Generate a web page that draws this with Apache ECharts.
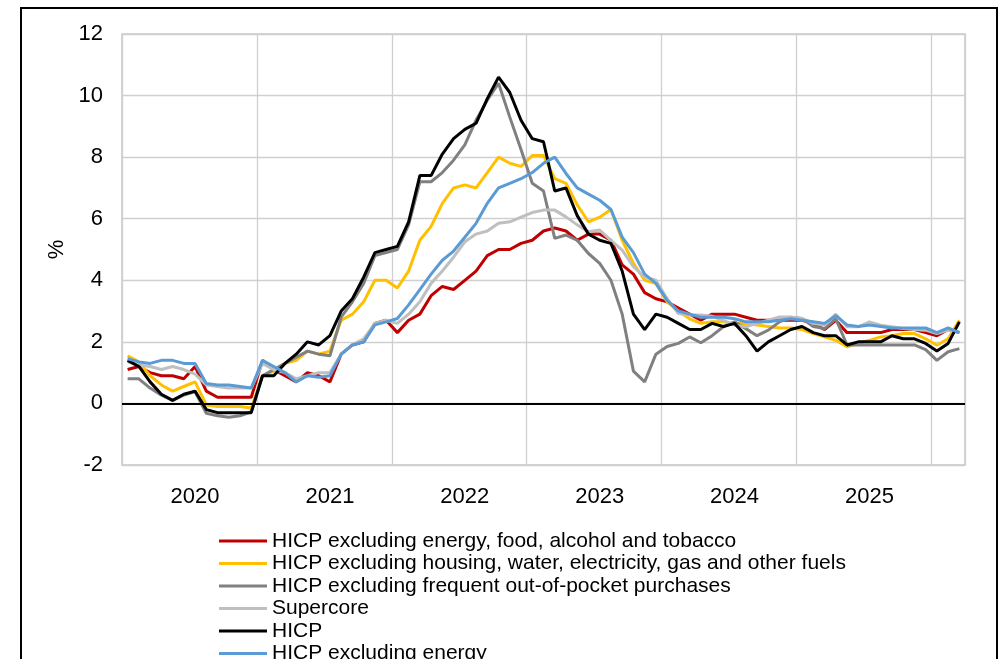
<!DOCTYPE html>
<html>
<head>
<meta charset="utf-8">
<script src="https://cdn.jsdelivr.net/npm/echarts@6/dist/echarts.min.js"></script>
<style>
html,body{margin:0;padding:0;background:#fff;}
#chart{width:1002px;height:659px;}
</style>
</head>
<body>
<div id="chart"></div>
<script>
// Monthly categories Jan 2020 - Mar 2026
const years = ['2020','2021','2022','2023','2024','2025','2026'];
const monthsPerYear = [12,12,12,12,12,12,3];
const categories = [];
years.forEach((y, k) => { for (let m = 1; m <= monthsPerYear[k]; m++) categories.push(y + '-' + String(m).padStart(2,'0')); });

const seriesNames = [
  'HICP excluding energy, food, alcohol and tobacco',
  'HICP excluding housing, water, electricity, gas and other fuels',
  'HICP excluding frequent out-of-pocket purchases',
  'Supercore',
  'HICP',
  'HICP excluding energy'
];

const core = [
  1.1,1.2,1.0,0.9,0.9,0.8,1.2,0.4,0.2,0.2,0.2,0.2,
  1.4,1.1,0.9,0.7,1.0,0.9,0.7,1.6,1.9,2.0,2.6,2.7,
  2.3,2.7,2.9,3.5,3.8,3.7,4.0,4.3,4.8,5.0,5.0,5.2,
  5.3,5.6,5.7,5.6,5.3,5.5,5.5,5.3,4.5,4.2,3.6,3.4,
  3.3,3.1,2.9,2.7,2.9,2.9,2.9,2.8,2.7,2.7,2.7,2.7,
  2.7,2.6,2.4,2.7,2.3,2.3,2.3,2.3,2.4,2.4,2.4,2.3,
  2.2,2.4,2.3
];
const exHousing = [
  1.55,1.35,0.9,0.6,0.4,0.55,0.7,-0.05,-0.1,-0.1,-0.1,-0.15,
  0.9,1.05,1.3,1.4,1.7,1.6,1.7,2.7,2.9,3.3,4.0,4.0,
  3.75,4.3,5.3,5.75,6.5,7.0,7.1,7.0,7.5,8.0,7.8,7.7,
  8.05,8.05,7.3,7.15,6.45,5.9,6.05,6.3,5.3,4.55,4.0,3.9,
  3.3,3.0,2.75,2.6,2.65,2.65,2.6,2.6,2.55,2.5,2.45,2.45,
  2.4,2.27,2.16,2.05,1.84,1.95,2.05,2.16,2.2,2.27,2.27,2.1,
  1.89,2.1,2.7
];
const exFrequent = [
  0.8,0.8,0.5,0.27,0.1,0.27,0.38,-0.32,-0.4,-0.45,-0.4,-0.27,
  0.9,1.1,1.3,1.5,1.7,1.6,1.55,2.8,3.3,3.9,4.8,4.9,
  5.0,5.8,7.2,7.2,7.5,7.9,8.4,9.2,9.85,10.4,9.3,8.25,
  7.15,6.9,5.36,5.47,5.3,4.87,4.55,4.0,2.9,1.05,0.7,1.6,
  1.85,1.95,2.16,1.97,2.2,2.49,2.65,2.43,2.2,2.38,2.65,2.8,
  2.76,2.5,2.43,2.75,1.9,1.9,1.9,1.9,1.9,1.9,1.9,1.75,
  1.4,1.68,1.78
];
const supercore = [
  1.35,1.25,1.2,1.1,1.2,1.1,0.95,0.6,0.55,0.5,0.5,0.5,
  1.3,1.1,1.0,0.8,0.9,1.0,1.0,1.6,1.9,2.1,2.6,2.7,
  2.6,2.9,3.3,3.9,4.3,4.75,5.25,5.5,5.6,5.85,5.9,6.05,
  6.2,6.28,6.28,6.06,5.8,5.58,5.63,5.3,4.98,4.44,4.11,4.0,
  3.4,2.92,2.87,2.87,2.83,2.7,2.54,2.49,2.6,2.7,2.81,2.81,
  2.76,2.6,2.54,2.9,2.49,2.49,2.65,2.54,2.49,2.43,2.4,2.38,
  2.27,2.38,2.32
];
const hicp = [
  1.4,1.2,0.7,0.3,0.1,0.3,0.4,-0.2,-0.3,-0.3,-0.3,-0.3,
  0.9,0.9,1.3,1.6,2.0,1.9,2.2,3.0,3.4,4.1,4.9,5.0,
  5.1,5.9,7.4,7.4,8.1,8.6,8.9,9.1,9.9,10.6,10.1,9.2,
  8.6,8.5,6.9,7.0,6.1,5.5,5.3,5.2,4.3,2.9,2.4,2.9,
  2.8,2.6,2.4,2.4,2.6,2.5,2.6,2.2,1.7,2.0,2.2,2.4,
  2.5,2.3,2.2,2.2,1.9,2.0,2.0,2.0,2.2,2.1,2.1,1.95,
  1.7,1.95,2.65
];
const exEnergy = [
  1.45,1.35,1.3,1.4,1.4,1.3,1.3,0.65,0.6,0.6,0.55,0.5,
  1.4,1.2,1.0,0.7,0.9,0.85,0.9,1.6,1.9,2.0,2.55,2.65,
  2.76,3.2,3.7,4.2,4.65,4.95,5.4,5.85,6.5,7.0,7.15,7.3,
  7.5,7.8,8.0,7.47,7.0,6.8,6.6,6.3,5.4,4.9,4.2,3.9,
  3.35,3.0,2.9,2.8,2.8,2.8,2.75,2.65,2.65,2.65,2.7,2.75,
  2.7,2.65,2.6,2.85,2.55,2.5,2.55,2.5,2.45,2.45,2.45,2.45,
  2.3,2.45,2.3
];

const yTicks = [-2,0,2,4,6,8,10,12];
const colors = ['#C00000','#FFC000','#808080','#BFBFBF','#000000','#5B9BD5'];
const dataSets = [core, exHousing, exFrequent, supercore, hicp, exEnergy];

const FONT = '"Liberation Sans", Arial, sans-serif';

const series = dataSets.map((d, i) => ({
  name: seriesNames[i],
  type: 'line',
  data: d,
  symbol: 'none',
  smooth: false,
  lineStyle: { color: colors[i], width: 3 },
  itemStyle: { color: colors[i] },
  z: 2 + i,
  animation: false
}));
series[0].markLine = {
  silent: true,
  symbol: ['none','none'],
  label: { show: false },
  lineStyle: { color: '#000', width: 2, type: 'solid' },
  data: [{ yAxis: 0 }],
  animation: false
};

// one legend component per row, stacked vertically
const legends = seriesNames.map((n, k) => ({
  orient: 'vertical',
  left: 219,
  top: 530.5 + 22.5 * k,
  padding: 0,
  itemWidth: 48, itemHeight: 3,
  icon: 'rect',
  data: [n],
  textStyle: { fontFamily: FONT, fontSize: 21, color: '#000', lineHeight: 21 }
}));

const chart = echarts.init(document.getElementById('chart'), null, { renderer: 'canvas' });
chart.setOption({
  backgroundColor: '#fff',
  animation: false,
  graphic: [{
    type: 'rect',
    shape: { x: 21, y: 8, width: 976, height: 700 },
    style: { fill: 'none', stroke: '#000', lineWidth: 2 },
    silent: true
  }],
  grid: {
    left: 122, top: 34, right: 37, bottom: 194,
    show: true, borderColor: '#c8c8c8', borderWidth: 1.5, containLabel: false
  },
  legend: legends,
  xAxis: {
    type: 'category',
    data: categories,
    boundaryGap: true,
    axisLine: { show: false },
    axisTick: { show: false },
    splitLine: { show: true, interval: (i) => i % 12 === 0, lineStyle: { color: '#d0d0d0', width: 1.3 } },
    axisLabel: {
      interval: (i) => i % 12 === 6,
      formatter: (v) => v.slice(0, 4),
      fontFamily: FONT, fontSize: 22, color: '#000', margin: 21
    }
  },
  yAxis: {
    type: 'value',
    min: yTicks[0], max: yTicks[yTicks.length - 1], interval: 2,
    name: '%',
    nameLocation: 'middle',
    nameGap: 52,
    nameRotate: 90,
    nameTextStyle: { fontFamily: FONT, fontSize: 22, color: '#000' },
    axisLine: { show: false },
    axisTick: { show: false },
    splitLine: { show: true, lineStyle: { color: '#d0d0d0', width: 1.3 } },
    axisLabel: { fontFamily: FONT, fontSize: 22, color: '#000', margin: 19 }
  },
  series: series
});
</script>
</body>
</html>
